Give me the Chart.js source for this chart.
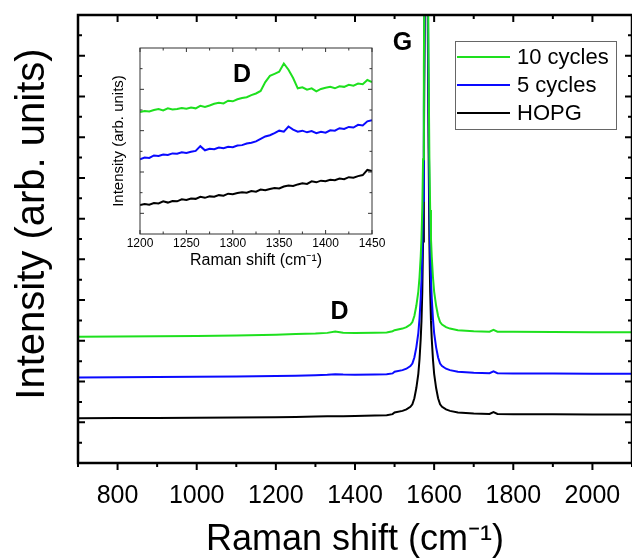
<!DOCTYPE html>
<html>
<head>
<meta charset="utf-8">
<script src="https://cdn.jsdelivr.net/npm/chart.js@4.4.0/dist/chart.umd.min.js"></script>
<style>
  body { margin: 0; background: #fff; }
  #wrap { position: relative; width: 632px; height: 558px; }
  #main { position: absolute; left: 0; top: 0; }
  #inset { position: absolute; left: 100px; top: 30px; }
</style>
</head>
<body>
<div id="wrap">
  <canvas id="main" width="632" height="558"></canvas>
  <canvas id="inset" width="300" height="250"></canvas>
</div>
<script>
// full spectra (Raman shift in cm-1, intensity in arb. units, already offset)
const shift = [700, 800, 900, 1000, 1100, 1200, 1250, 1300, 1330, 1350, 1370, 1400, 1450, 1480, 1495,
  1500, 1520, 1530, 1540, 1545, 1550, 1555, 1560, 1563, 1566, 1568, 1570, 1572, 1574, 1576, 1578,
  1580, 1582, 1584, 1586, 1588, 1590, 1592, 1594, 1597, 1600, 1605, 1610, 1615, 1620, 1630, 1640,
  1660, 1700, 1740, 1750, 1760, 1800, 1900, 2000, 2100];
const cycles10 = [6.20, 6.21, 6.22, 6.24, 6.26, 6.30, 6.34, 6.36, 6.39, 6.46, 6.40, 6.38, 6.40, 6.41, 6.47,
  6.52, 6.60, 6.67, 6.80, 6.92, 7.22, 7.72, 8.42, 9.12, 10.12, 11.02, 12.42, 14.92, 19.42, 25.42, 32.42,
  36.42, 32.42, 25.42, 19.42, 14.92, 12.42, 11.02, 10.12, 9.12, 8.42, 7.72, 7.22, 6.92, 6.80, 6.67, 6.60,
  6.52, 6.47, 6.45, 6.54, 6.45, 6.44, 6.43, 6.42, 6.42];
const cycles5 = [4.20, 4.21, 4.22, 4.23, 4.25, 4.27, 4.29, 4.31, 4.33, 4.36, 4.34, 4.33, 4.35, 4.36, 4.40,
  4.48, 4.56, 4.63, 4.76, 4.88, 5.18, 5.68, 6.38, 7.08, 8.08, 8.98, 10.38, 12.88, 17.38, 23.38, 30.38,
  34.38, 30.38, 23.38, 17.38, 12.88, 10.38, 8.98, 8.08, 7.08, 6.38, 5.68, 5.18, 4.88, 4.76, 4.63, 4.56,
  4.48, 4.43, 4.41, 4.50, 4.41, 4.40, 4.39, 4.38, 4.38];
const hopg = [2.20, 2.21, 2.21, 2.22, 2.23, 2.25, 2.26, 2.28, 2.29, 2.30, 2.30, 2.31, 2.33, 2.35, 2.40,
  2.48, 2.56, 2.63, 2.76, 2.88, 3.18, 3.68, 4.38, 5.08, 6.08, 6.98, 8.38, 10.88, 15.38, 21.38, 28.38,
  32.38, 28.38, 21.38, 15.38, 10.88, 8.38, 6.98, 6.08, 5.08, 4.38, 3.68, 3.18, 2.88, 2.76, 2.63, 2.56,
  2.48, 2.43, 2.41, 2.50, 2.41, 2.40, 2.39, 2.38, 2.38];
const seriesNames = ['10 cycles', '5 cycles', 'HOPG'];
const xTicks = [800, 1000, 1200, 1400, 1600, 1800, 2000];
const xMinor = [700, 900, 1100, 1300, 1500, 1700, 1900, 2100];
const yMajor = [2, 4, 6, 8, 10, 12, 14, 16, 18, 20];
const yMinor = [1, 3, 5, 7, 9, 11, 13, 15, 17, 19, 21];

// inset: D band region
const insetShift = [1200, 1205, 1210, 1215, 1220, 1225, 1230, 1235, 1240, 1245, 1250, 1255, 1260, 1265,
  1270, 1275, 1280, 1285, 1290, 1295, 1300, 1305, 1310, 1315, 1320, 1325, 1330, 1335, 1340, 1345, 1350,
  1355, 1360, 1365, 1370, 1375, 1380, 1385, 1390, 1395, 1400, 1405, 1410, 1415, 1420, 1425, 1430, 1435,
  1440, 1445, 1450];
const insetCycles10 = [5.90, 5.95, 5.93, 6.00, 6.05, 5.98, 6.08, 6.02, 6.05, 6.10, 6.06, 6.12, 6.08, 6.20,
  6.15, 6.22, 6.30, 6.35, 6.32, 6.45, 6.42, 6.52, 6.58, 6.62, 6.72, 6.80, 6.92, 7.35, 7.65, 7.75, 7.85,
  8.25, 7.95, 7.55, 7.05, 7.10, 6.98, 7.05, 6.90, 7.02, 7.08, 7.12, 7.05, 7.15, 7.12, 7.22, 7.18, 7.28,
  7.25, 7.45, 7.35];
const insetCycles5 = [3.62, 3.70, 3.68, 3.80, 3.78, 3.85, 3.82, 3.90, 3.88, 3.95, 3.92, 3.98, 4.02, 4.25,
  4.05, 4.12, 4.10, 4.18, 4.15, 4.22, 4.20, 4.28, 4.30, 4.38, 4.42, 4.48, 4.60, 4.72, 4.78, 4.88, 5.00,
  4.95, 5.20, 5.05, 4.95, 5.00, 4.92, 4.98, 4.88, 4.95, 4.90, 5.02, 5.00, 5.12, 5.08, 5.18, 5.15, 5.28,
  5.25, 5.45, 5.50];
const insetHopg = [1.40, 1.45, 1.42, 1.50, 1.48, 1.58, 1.52, 1.60, 1.58, 1.68, 1.65, 1.72, 1.70, 1.80,
  1.75, 1.82, 1.80, 1.88, 1.85, 1.95, 1.92, 1.98, 2.02, 2.00, 2.08, 2.05, 2.15, 2.12, 2.18, 2.22, 2.20,
  2.30, 2.35, 2.32, 2.40, 2.45, 2.42, 2.55, 2.50, 2.58, 2.55, 2.62, 2.60, 2.68, 2.65, 2.75, 2.72, 2.80,
  2.85, 3.10, 3.05];
const insetTicks = [1200, 1250, 1300, 1350, 1400, 1450];
const insetMinor = [1225, 1275, 1325, 1375, 1425];
const insetYMajor = [1, 3, 5, 7];
const insetYMinor = [2, 4, 6, 8];

const colors = ['#1ee01e', '#0a0aff', '#000000'];
const FONT = '"Liberation Sans", Arial, sans-serif';
Chart.defaults.font.family = FONT;
Chart.defaults.color = '#000';

function pts(xs, ys) {
  return xs.map((v, i) => ({x: v, y: ys[i]}));
}

// box + ticks drawn by hand: Origin style, some inward some outward
const framePlugin = {
  id: 'frame',
  afterDatasetsDraw(chart, args, o) {
    const {ctx, chartArea: a, scales: {x, y}} = chart;
    ctx.save();
    ctx.strokeStyle = o.color;
    ctx.lineWidth = o.tickWidth;
    ctx.beginPath();
    const xt = (v, len) => {
      const px = x.getPixelForValue(v);
      ctx.moveTo(px, a.bottom);
      ctx.lineTo(px, a.bottom + (o.bottomOut ? len : -len));
      ctx.moveTo(px, a.top);
      ctx.lineTo(px, a.top + len);
    };
    const yt = (v, len) => {
      const py = y.getPixelForValue(v);
      ctx.moveTo(a.left, py);
      ctx.lineTo(a.left + len, py);
      ctx.moveTo(a.right, py);
      ctx.lineTo(a.right - len, py);
    };
    o.xMajor.forEach(v => xt(v, o.major));
    o.xMinor.forEach(v => xt(v, o.minor));
    o.yMajor.forEach(v => yt(v, o.major));
    o.yMinor.forEach(v => yt(v, o.minor));
    ctx.stroke();
    ctx.lineWidth = o.width;
    ctx.strokeRect(a.left, a.top, a.right - a.left, a.bottom - a.top);
    ctx.restore();
  }
};

// peak labels + the rotated y title (sits a bit above the axis centre in the original)
const notePlugin = {
  id: 'notes',
  afterDatasetsDraw(chart, args, o) {
    const {ctx, chartArea: a, scales: {x, y}} = chart;
    ctx.save();
    ctx.fillStyle = '#000';
    ctx.textAlign = 'center';
    ctx.textBaseline = 'middle';
    ctx.font = o.font;
    o.items.forEach(it => ctx.fillText(it.text, x.getPixelForValue(it.x), y.getPixelForValue(it.y)));
    if (o.yTitle) {
      ctx.font = o.yTitle.font;
      ctx.translate(o.yTitle.left, (a.top + a.bottom) / 2 + o.yTitle.shift);
      ctx.rotate(-Math.PI / 2);
      ctx.fillText(o.yTitle.text, 0, 0);
    }
    ctx.restore();
  }
};

const boxLegend = {
  id: 'boxLegend',
  afterDatasetsDraw(chart) {
    const {ctx, chartArea: a} = chart;
    const left = a.right - 177, top = a.top + 26, w = 161, rowH = 28;
    const h = rowH * chart.data.datasets.length + 4;
    ctx.save();
    ctx.fillStyle = '#fff';
    ctx.fillRect(left, top, w, h);
    ctx.strokeStyle = '#666';
    ctx.lineWidth = 1;
    ctx.strokeRect(left + 0.5, top + 0.5, w, h);
    ctx.font = '22px ' + FONT;
    ctx.textBaseline = 'middle';
    chart.data.datasets.forEach((ds, i) => {
      const cy = top + 16 + i * rowH;
      ctx.strokeStyle = ds.borderColor;
      ctx.lineWidth = 2;
      ctx.beginPath();
      ctx.moveTo(left + 2, cy);
      ctx.lineTo(left + 55, cy);
      ctx.stroke();
      ctx.fillStyle = '#000';
      ctx.fillText(ds.label, left + 62, cy + 1);
    });
    ctx.restore();
  }
};

const noPad = s => { s.paddingLeft = 0; s.paddingRight = 0; };

new Chart(document.getElementById('main'), {
  type: 'line',
  data: {
    datasets: [
      {label: seriesNames[0], data: pts(shift, cycles10), borderColor: colors[0]},
      {label: seriesNames[1], data: pts(shift, cycles5), borderColor: colors[1]},
      {label: seriesNames[2], data: pts(shift, hopg), borderColor: colors[2]}
    ]
  },
  options: {
    responsive: false,
    animation: false,
    layout: {padding: {top: 15, right: 0, left: 0, bottom: 0}},
    elements: {point: {radius: 0}, line: {borderWidth: 2, tension: 0}},
    plugins: {
      legend: {display: false},
      tooltip: {enabled: false},
      frame: {color: '#000', width: 2.5, tickWidth: 2, major: 7, minor: 4, bottomOut: true,
        xMajor: xTicks, xMinor: xMinor, yMajor: yMajor, yMinor: yMinor},
      notes: {
        font: 'bold 25px ' + FONT,
        items: [{text: 'G', x: 1520, y: 20.6}, {text: 'D', x: 1361, y: 7.4}],
        yTitle: {text: 'Intensity (arb. units)', font: '40px ' + FONT, left: 33, shift: -15}
      }
    },
    scales: {
      x: {
        type: 'linear', min: 700, max: 2100,
        afterBuildTicks: s => { s.ticks = xTicks.map(v => ({value: v})); },
        afterFit: s => { s.height = 95; noPad(s); },
        grid: {display: false, drawTicks: false},
        border: {display: false},
        ticks: {font: {size: 25}, padding: 18, maxRotation: 0, autoSkip: false, callback: v => String(v)},
        title: {display: true, text: 'Raman shift (cm\u207B\u00B9)', font: {size: 36, lineHeight: 1}, padding: 0}
      },
      y: {
        min: 0, max: 22,
        afterFit: s => { s.width = 78; },
        grid: {display: false, drawTicks: false},
        border: {display: false},
        ticks: {display: false}
      }
    }
  },
  plugins: [framePlugin, notePlugin, boxLegend]
});

new Chart(document.getElementById('inset'), {
  type: 'line',
  data: {
    datasets: [
      {label: seriesNames[0], data: pts(insetShift, insetCycles10), borderColor: colors[0]},
      {label: seriesNames[1], data: pts(insetShift, insetCycles5), borderColor: colors[1]},
      {label: seriesNames[2], data: pts(insetShift, insetHopg), borderColor: colors[2]}
    ]
  },
  options: {
    responsive: false,
    animation: false,
    layout: {padding: {top: 18, right: 28, left: 0, bottom: 0}},
    elements: {point: {radius: 0}, line: {borderWidth: 2, tension: 0}},
    plugins: {
      legend: {display: false},
      tooltip: {enabled: false},
      frame: {color: '#333', width: 1, tickWidth: 1, major: 4, minor: 2.5, bottomOut: false,
        xMajor: insetTicks, xMinor: insetMinor, yMajor: insetYMajor, yMinor: insetYMinor},
      notes: {font: 'bold 25px ' + FONT, items: [{text: 'D', x: 1310, y: 7.7}]}
    },
    scales: {
      x: {
        type: 'linear', min: 1200, max: 1450,
        afterBuildTicks: s => { s.ticks = insetTicks.map(v => ({value: v})); },
        afterFit: s => { s.height = 46; noPad(s); },
        grid: {display: false, drawTicks: false},
        border: {display: false},
        ticks: {font: {size: 12}, padding: 2, maxRotation: 0, autoSkip: false, callback: v => String(v)},
        title: {display: true, text: 'Raman shift (cm\u207B\u00B9)', font: {size: 16, lineHeight: 1}, padding: {top: 0, bottom: 11}}
      },
      y: {
        min: 0, max: 9,
        afterFit: s => { s.width = 40; },
        grid: {display: false, drawTicks: false},
        border: {display: false},
        ticks: {display: false},
        title: {display: true, text: 'Intensity (arb. units)', font: {size: 15, lineHeight: 1}, padding: {top: 11, bottom: 0}}
      }
    }
  },
  plugins: [framePlugin, notePlugin]
});
</script>
</body>
</html>
